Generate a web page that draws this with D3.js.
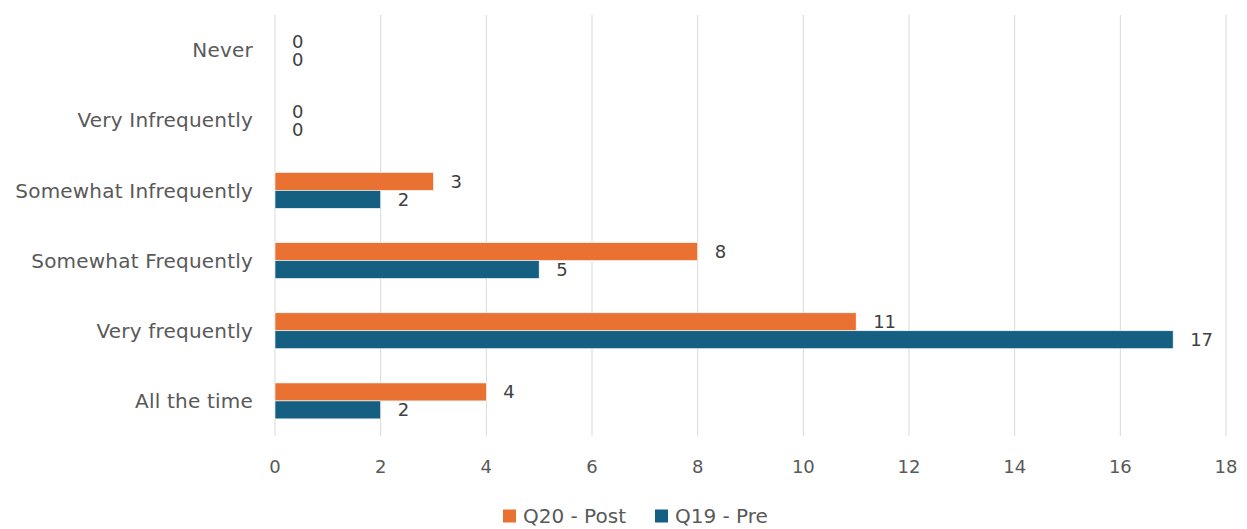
<!DOCTYPE html>
<html>
<head>
<meta charset="utf-8">
<script src="https://cdn.jsdelivr.net/npm/d3@7"></script>
<style>
  body { margin: 0; background: #fff; }
  svg { display: block; font-family: "DejaVu Sans", sans-serif; }
</style>
</head>
<body>
<div id="chart"></div>
<script>
// data
const categories = ['Never', 'Very Infrequently', 'Somewhat Infrequently', 'Somewhat Frequently', 'Very frequently', 'All the time'];
const postValues = [0, 0, 3, 8, 11, 4];   // Q20 - Post
const preValues = [0, 0, 2, 5, 17, 2];    // Q19 - Pre
const seriesNames = ['Q20 - Post', 'Q19 - Pre'];
const seriesColors = ['#E97132', '#156082'];
const xTicks = [0, 2, 4, 6, 8, 10, 12, 14, 16, 18];

const width = 1247, height = 529;
const margin = { top: 15, right: 21, bottom: 93, left: 275 };

const svg = d3.select('#chart')
    .append('svg')
    .attr('width', width)
    .attr('height', height);

const x = d3.scaleLinear()
    .domain([0, 18])
    .range([margin.left, width - margin.right]);

const y = d3.scaleBand()
    .domain(categories)
    .range([margin.top, height - margin.bottom]);

const barH = y.bandwidth() * 0.256;

// vertical gridlines
svg.append('g')
    .selectAll('line')
    .data(xTicks)
    .join('line')
    .attr('x1', d => x(d))
    .attr('x2', d => x(d))
    .attr('y1', margin.top)
    .attr('y2', height - margin.bottom)
    .attr('stroke', '#d9d9d9')
    .attr('stroke-width', 1);

// x tick labels
svg.append('g')
    .selectAll('text')
    .data(xTicks)
    .join('text')
    .attr('x', d => x(d))
    .attr('y', 473)
    .attr('text-anchor', 'middle')
    .attr('fill', '#595959')
    .attr('font-size', '18px')
    .text(d => d);

// category labels
svg.append('g')
    .selectAll('text')
    .data(categories)
    .join('text')
    .attr('x', margin.left - 22)
    .attr('y', d => y(d) + y.bandwidth() / 2)
    .attr('dy', '0.36em')
    .attr('text-anchor', 'end')
    .attr('fill', '#595959')
    .attr('font-size', '20px')
    .attr('letter-spacing', '0.2px')
    .text(d => d);

// bars: orange on top, blue below
const series = [postValues, preValues];
series.forEach((vals, si) => {
    const rows = categories.map((c, i) => ({ cat: c, value: vals[i] }));
    const yOff = d => y(d.cat) + y.bandwidth() / 2 - barH + si * barH;

    svg.append('g')
        .selectAll('rect')
        .data(rows)
        .join('rect')
        .attr('x', x(0))
        .attr('y', yOff)
        .attr('width', d => x(d.value) - x(0))
        .attr('height', barH)
        .attr('fill', seriesColors[si])
        .attr('stroke', '#fff')
        .attr('stroke-width', 0.6);

    svg.append('g')
        .selectAll('text')
        .data(rows)
        .join('text')
        .attr('x', d => x(d.value) + 17)
        .attr('y', d => yOff(d) + barH / 2)
        .attr('dy', '0.36em')
        .attr('fill', '#404040')
        .attr('font-size', '18px')
        .text(d => d.value);
});

// legend
const legend = svg.append('g').attr('transform', 'translate(503, 516)');
const legendX = [0, 152];
seriesNames.forEach((name, i) => {
    const g = legend.append('g').attr('transform', `translate(${legendX[i]},0)`);
    g.append('rect')
        .attr('x', 0)
        .attr('y', -6.5)
        .attr('width', 13)
        .attr('height', 13)
        .attr('fill', seriesColors[i]);
    g.append('text')
        .attr('x', 20)
        .attr('y', 0)
        .attr('dy', '0.36em')
        .attr('fill', '#595959')
        .attr('font-size', '20px')
        .text(name);
});
</script>
</body>
</html>
